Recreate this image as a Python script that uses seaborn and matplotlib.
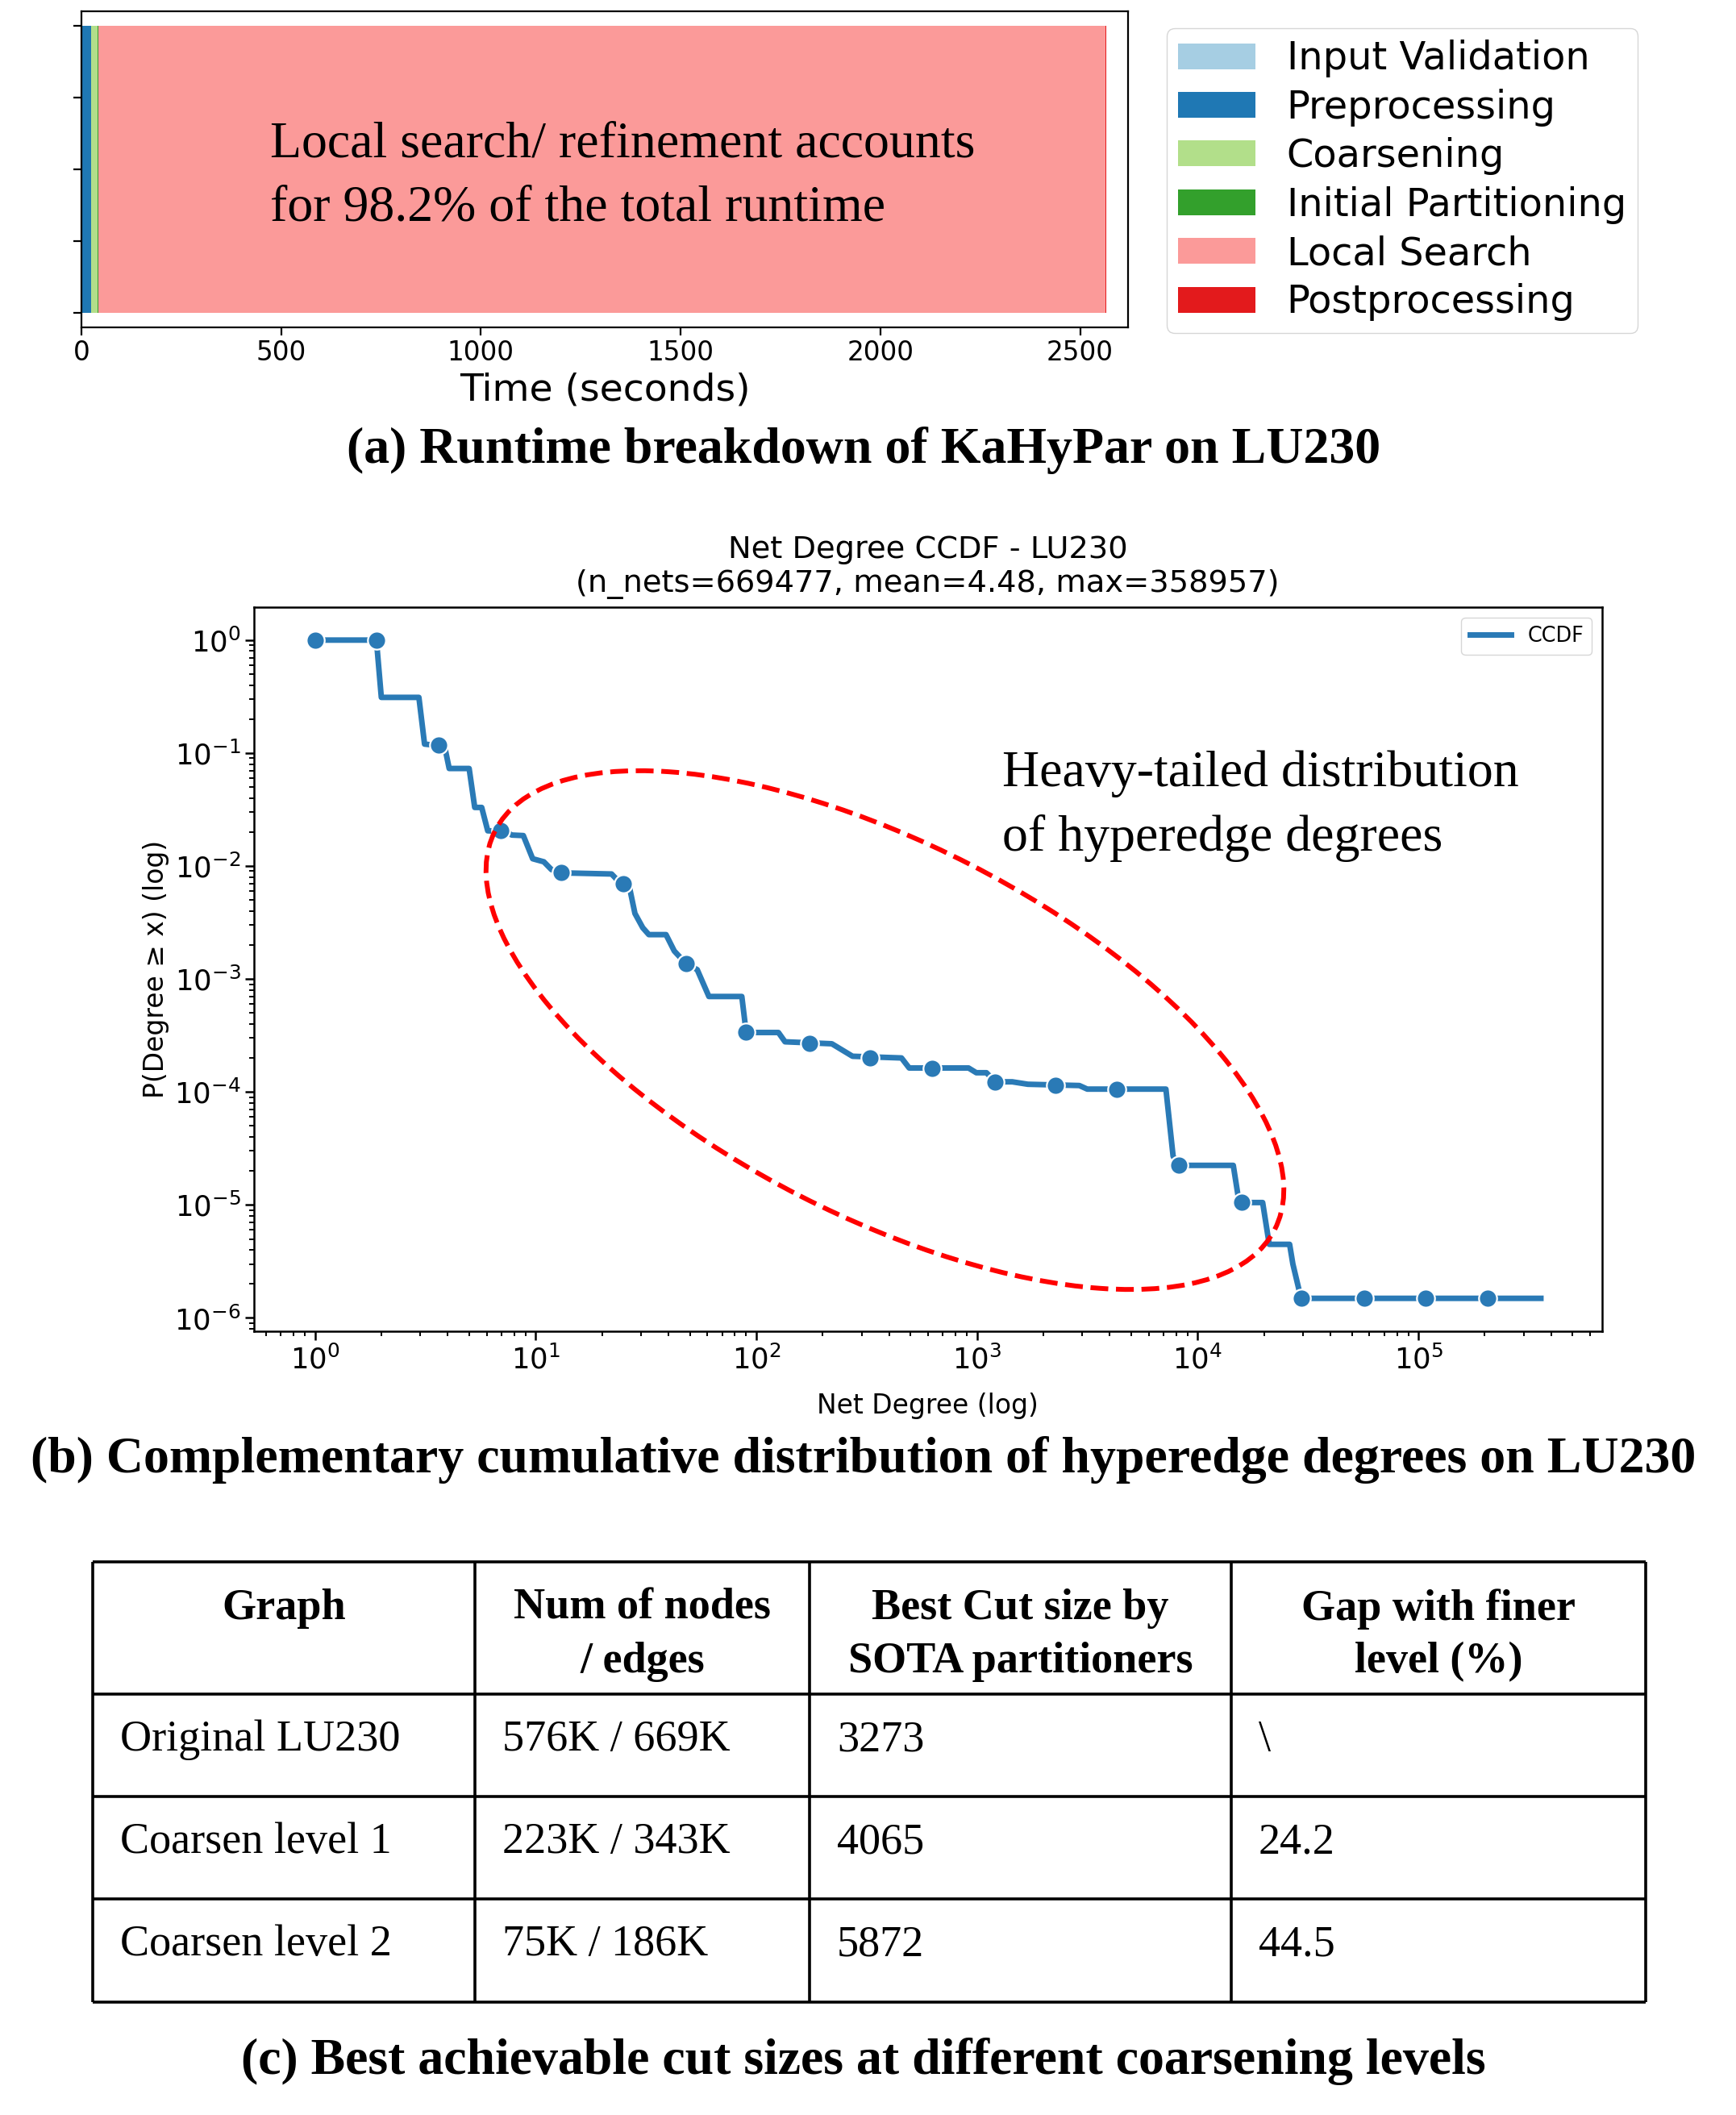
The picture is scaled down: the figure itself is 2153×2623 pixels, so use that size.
import matplotlib
matplotlib.use("Agg")
import matplotlib.pyplot as plt
import pandas as pd
import seaborn as sns
from matplotlib.patches import Patch, Ellipse

W, H, DPI = 2153, 2623, 100
SERIF = "Liberation Serif"
SANS = "DejaVu Sans"
BLUE = "#2a7ab6"

# --- (a) runtime breakdown (seconds) ---
phases = ["Input Validation", "Preprocessing", "Coarsening",
          "Initial Partitioning", "Local Search", "Postprocessing"]
phase_secs = [0.5, 24, 16, 2, 2521, 1.5]
phase_colors = sns.color_palette("Paired", 6)

# --- (b) net degree CCDF ---
line_deg = [1.0, 1.9, 2.0, 2.96, 3.14, 3.87, 4.06, 5.0, 5.3, 5.7, 6.07, 7.3, 7.8,
            8.8, 9.7, 10.9, 11.8, 13.1, 22.1, 23.8, 26.5, 28.2, 30.6, 32.6, 39,
            42.5, 48, 54, 61, 86, 90, 126, 135, 220, 273, 455, 493, 916, 993,
            1104, 1210, 1445, 1700, 2910, 3160, 7180, 7740, 8190, 14500, 15300,
            15900, 19700, 21100, 26100, 27000, 29400, 358957]
line_ccdf = [1.0, 1.0, 0.311, 0.311, 0.12, 0.115, 0.073, 0.073, 0.033, 0.033,
             0.0205, 0.0203, 0.0188, 0.0186, 0.0116, 0.0109, 0.0093, 0.0087,
             0.0085, 0.0073, 0.0068, 0.0038, 0.00284, 0.00247, 0.00247, 0.00177,
             0.00137, 0.00121, 0.0007, 0.0007, 0.000336, 0.000336, 0.000278,
             0.000267, 0.000207, 0.0002, 0.000163, 0.000163, 0.000148, 0.000148,
             0.000123, 0.000123, 0.000117, 0.000114, 0.000106, 0.000106, 2.7e-5,
             2.24e-5, 2.24e-5, 1.15e-5, 1.05e-5, 1.05e-5, 4.48e-6, 4.48e-6,
             3.0e-6, 1.49e-6, 1.49e-6]
mark_deg = [1, 1.9, 3.63, 6.95, 13.1, 25, 48, 90, 175, 329, 627, 1210, 2275,
            4315, 8190, 15900, 29500, 56800, 108000, 206000]
mark_ccdf = [1.0, 1.0, 0.118, 0.0205, 0.0088, 0.0070, 0.00137, 0.000336,
             0.000267, 0.000201, 0.000163, 0.000123, 0.000115, 0.000106,
             2.24e-5, 1.05e-5, 1.49e-6, 1.49e-6, 1.49e-6, 1.49e-6]

# --- (c) table ---
table_header = ["Graph", "Num of nodes\n/ edges", "Best Cut size by\nSOTA partitioners",
                "Gap with finer\nlevel (%)"]
table_rows = [["Original LU230", "576K / 669K", "3273", "\\"],
              ["Coarsen level 1", "223K / 343K", "4065", "24.2"],
              ["Coarsen level 2", "75K / 186K", "5872", "44.5"]]

captions = ["(a) Runtime breakdown of KaHyPar on LU230",
            "(b) Complementary cumulative distribution of hyperedge degrees on LU230",
            "(c) Best achievable cut sizes at different coarsening levels"]


def fx(px):
    return px / W


def fy(py):
    return 1 - py / H


fig = plt.figure(figsize=(W / DPI, H / DPI), dpi=DPI)

# ---------------- (a) stacked bar ----------------
ax1 = fig.add_axes([fx(101), fy(406), fx(1399) - fx(101), fy(14) - fy(406)])
df_a = pd.DataFrame({"phase": phases, "secs": phase_secs})
df_a["end"] = df_a["secs"].cumsum()
df_a["run"] = "LU230"
# draw cumulative bars from the longest down so each phase shows its own segment
for i in reversed(range(len(df_a))):
    sns.barplot(data=df_a.iloc[[i]], x="end", y="run", orient="h",
                color=phase_colors[i], saturation=1, width=0.8,
                errorbar=None, ax=ax1)
ax1.set_xlim(0, 2620)
ax1.set_ylim(0.44, -0.44)
ax1.set_yticks([-0.4, -0.2, 0, 0.2, 0.4])
ax1.set_yticklabels([])
ax1.set_ylabel("")
ax1.set_xlabel("Time (seconds)", fontsize=34, family=SANS, labelpad=5.5)
ax1.tick_params(labelsize=23.5, length=7, width=1.6)
for s in ax1.spines.values():
    s.set_linewidth(1.6)
handles = [Patch(facecolor=c, label=p) for p, c in zip(phases, phase_colors)]
ax1.legend(handles=handles, loc="upper left", bbox_to_anchor=(fx(1447), fy(35)),
           bbox_transform=fig.transFigure, borderaxespad=0, fontsize=34.5,
           labelspacing=0.28, handletextpad=0.8, handleheight=0.65, borderpad=0.3)
fig.text(fx(335), fy(219), "Local search/ refinement accounts\nfor 98.2% of the total runtime",
         family=SERIF, fontsize=46, ha="left", va="center", linespacing=1.48)

# ---------------- (b) CCDF ----------------
ax2 = fig.add_axes([fx(314.5), fy(1651), fx(1987) - fx(314.5), fy(753) - fy(1651)])
ax2.set_xscale("log")
ax2.set_yscale("log")
sns.lineplot(x=line_deg, y=line_ccdf, ax=ax2, color=BLUE, linewidth=5,
             label="CCDF", estimator=None, sort=False)
sns.scatterplot(x=mark_deg, y=mark_ccdf, ax=ax2, color=BLUE, s=260,
                edgecolor="white", linewidth=1.6, zorder=3)
ax2.set_title("Net Degree CCDF - LU230\n(n_nets=669477, mean=4.48, max=358957)",
              fontsize=27.6, pad=13.8)
ax2.set_xlabel("Net Degree (log)", fontsize=23.7, labelpad=16)
ax2.set_ylabel("P(Degree ≥ x) (log)", fontsize=23.7)
ax2.tick_params(which="major", labelsize=25.5, length=8, width=1.8)
ax2.tick_params(axis="x", which="major", pad=4.5)
ax2.tick_params(which="minor", length=4.6, width=1.4)
for s in ax2.spines.values():
    s.set_linewidth(1.8)
ax2.legend(loc="upper right", fontsize=18.4)

fig.add_artist(Ellipse((1097.5 / DPI, (H - 1277.5) / DPI), 10.86, 4.62, angle=-27.1,
                       transform=fig.dpi_scale_trans, fill=False, edgecolor="red",
                       linestyle="--", linewidth=4.3))
fig.text(fx(1243), fy(1000), "Heavy-tailed distribution\nof hyperedge degrees",
         family=SERIF, fontsize=46, ha="left", va="center", linespacing=1.46)

# ---------------- (c) table ----------------
ax3 = fig.add_axes([0, 0, 1, 1], zorder=-1)
ax3.set_xlim(0, W)
ax3.set_ylim(H, 0)
ax3.axis("off")
col_x = [115, 589, 1004, 1527, 2041]
row_y = [1937, 2101, 2228, 2355, 2483]
ax3.hlines(row_y, col_x[0], col_x[-1], color="black", linewidth=2.6)
ax3.vlines(col_x, row_y[0], row_y[-1], color="black", linewidth=2.6)
for j, head in enumerate(table_header):
    ax3.text((col_x[j] + col_x[j + 1]) / 2, 1970, head, family=SERIF, weight="bold",
             fontsize=39, ha="center", va="top", linespacing=1.42)
for i, row in enumerate(table_rows):
    for j, cell in enumerate(row):
        ax3.text(col_x[j] + 34, row_y[i + 1] + 57, cell, family=SERIF,
                 fontsize=39, ha="left", va="center")

for cap, cy in zip(captions, [558, 1811, 2556]):
    fig.text(fx(1071), fy(cy), cap, family=SERIF, weight="bold", fontsize=46,
             ha="center", va="center")

fig.savefig("out.png", dpi=DPI)
